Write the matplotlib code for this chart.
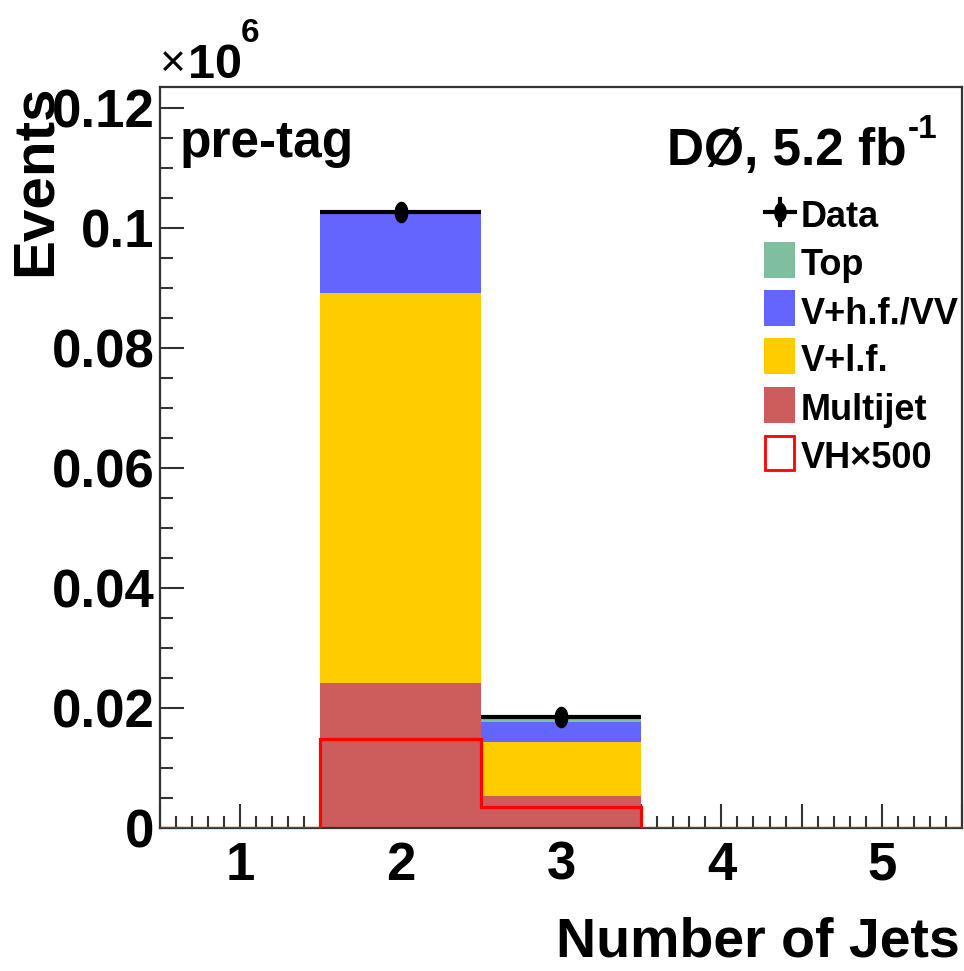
import numpy as np
import matplotlib
matplotlib.use("Agg")
import matplotlib.pyplot as plt
from matplotlib.path import Path
from matplotlib.patches import Rectangle
from matplotlib.lines import Line2D
from matplotlib.ticker import MultipleLocator

# ---- data (events, in units of 10^6) ----
n_jets = np.array([1, 2, 3, 4, 5])
multijet = np.array([0.0, 0.0242, 0.0053, 0.0, 0.0])
v_lf = np.array([0.0, 0.0650, 0.0090, 0.0, 0.0])
v_hf_vv = np.array([0.0, 0.0131, 0.0033, 0.0, 0.0])
top = np.array([0.0, 0.0007, 0.0010, 0.0, 0.0])
data = np.array([0.0, 0.1026, 0.0185, 0.0, 0.0])
vh_x500 = np.array([0.0, 0.0148, 0.0035, 0.0, 0.0])

stack_names = ["Multijet", "V+l.f.", "V+h.f./VV", "Top"]
stack_values = [multijet, v_lf, v_hf_vv, top]
stack_colors = ["#cd5c5c", "#ffcc00", "#6464ff", "#7fbf9f"]

FONT = ["Liberation Sans", "DejaVu Sans"]

W, H = 964, 971
fig = plt.figure(figsize=(W / 100, H / 100), dpi=100)


def fx(px):
    return px / W


def fy(py):
    return 1 - py / H


ax = fig.add_axes([fx(160), fy(828), fx(962) - fx(160), fy(87) - fy(828)])

edges = np.arange(0.5, 6.0, 1.0)

# stacked backgrounds
bottom = np.zeros_like(multijet)
for vals, col in zip(stack_values, stack_colors):
    ax.bar(n_jets, vals, width=1.0, bottom=bottom, color=col, linewidth=0, zorder=2)
    bottom = bottom + vals

# signal outline
ax.stairs(vh_x500, edges, color="#ff0000", linewidth=2.3, zorder=3)

# data points with ellipse markers
th = np.linspace(0, 2 * np.pi, 64)
ellipse = Path(np.column_stack([0.62 * np.cos(th), np.sin(th)]), closed=True)
mask = data > 0
ax.errorbar(n_jets[mask], data[mask], xerr=0.5, yerr=np.sqrt(data[mask] * 1e6) / 1e6,
            fmt="none", ecolor="black", elinewidth=3.0, capsize=0, zorder=4)
ax.plot(n_jets[mask], data[mask], linestyle="none", marker=ellipse,
        markersize=14.5, color="black", zorder=5)

ax.set_xlim(0.5, 5.5)
ax.set_ylim(0, 0.1235)

ax.xaxis.set_major_locator(MultipleLocator(0.5))
ax.xaxis.set_minor_locator(MultipleLocator(0.1))
ax.yaxis.set_major_locator(MultipleLocator(0.02))
ax.yaxis.set_minor_locator(MultipleLocator(0.005))


def xfmt(v, pos):
    return f"{int(round(v))}" if abs(v - round(v)) < 1e-6 else ""


def yfmt(v, pos):
    if abs(v) < 1e-9:
        return "0"
    return f"{v:.2f}".rstrip("0")


ax.xaxis.set_major_formatter(plt.FuncFormatter(xfmt))
ax.yaxis.set_major_formatter(plt.FuncFormatter(yfmt))

ax.tick_params(axis="both", which="major", direction="in", length=17, width=1.5,
               color="#333333")
ax.tick_params(axis="both", which="minor", direction="in", length=9, width=1.5,
               color="#333333")
ax.tick_params(axis="x", which="major", pad=9)
ax.tick_params(axis="y", which="major", pad=4)
for lab in ax.get_xticklabels() + ax.get_yticklabels():
    lab.set_fontfamily(FONT)
    lab.set_fontweight("bold")
    lab.set_fontsize(38)

for sp in ax.spines.values():
    sp.set_linewidth(1.6)
    sp.set_color("#333333")

# axis titles
fig.text(fx(36), fy(85), "Events", rotation=90, ha="center", va="top",
         fontsize=42, fontweight="bold", family=FONT)
fig.text(fx(960), fy(956), "Number of Jets", ha="right", va="baseline",
         fontsize=40, fontweight="bold", family=FONT)

# exponent label
fig.text(fx(160), fy(76), "×", ha="left", va="baseline", fontsize=32,
         family=FONT)
fig.text(fx(188), fy(78), "10", ha="left", va="baseline", fontsize=35,
         fontweight="bold", family=FONT)
fig.text(fx(241), fy(42), "6", ha="left", va="baseline", fontsize=24,
         fontweight="bold", family=FONT)

# annotations
fig.text(fx(180), fy(157), "pre-tag", ha="left", va="baseline", fontsize=37,
         fontweight="bold", family=FONT)
fig.text(fx(907), fy(165), "DØ, 5.2 fb", ha="right", va="baseline", fontsize=37,
         fontweight="bold", family=FONT)
fig.text(fx(908), fy(138), "-1", ha="left", va="baseline", fontsize=24,
         fontweight="bold", family=FONT)

# legend
rows = [212, 260, 308, 356, 405, 453]
labels = ["Data", "Top", "V+h.f./VV", "V+l.f.", "Multijet", "VH×500"]
for yc, lab in zip(rows, labels):
    fig.text(fx(801), fy(yc + 15), lab, ha="left", va="baseline", fontsize=26,
             fontweight="bold", family=FONT)

# data symbol
fig.add_artist(Line2D([fx(765), fx(795)], [fy(212), fy(212)], color="black",
                      linewidth=3.0, transform=fig.transFigure))
fig.add_artist(Line2D([fx(780), fx(780)], [fy(199), fy(225)], color="black",
                      linewidth=3.0, transform=fig.transFigure))
fig.add_artist(Line2D([fx(780)], [fy(212)], marker=ellipse, markersize=13,
                      color="black", linestyle="none", transform=fig.transFigure))

# filled boxes
legend_fill = [("Top", "#7fbf9f", 260), ("V+h.f./VV", "#6464ff", 308),
               ("V+l.f.", "#ffcc00", 356), ("Multijet", "#cd5c5c", 405)]
for _, col, yc in legend_fill:
    fig.add_artist(Rectangle((fx(764), fy(yc + 18)), fx(795) - fx(764),
                             fy(yc - 18) - fy(yc + 18), facecolor=col,
                             edgecolor="none", transform=fig.transFigure))
fig.add_artist(Rectangle((fx(765), fy(453 + 17)), fx(794) - fx(765),
                         fy(453 - 17) - fy(453 + 17), facecolor="white",
                         edgecolor="#ff0000", linewidth=2.0,
                         transform=fig.transFigure))

fig.savefig("out.png", dpi=100)
